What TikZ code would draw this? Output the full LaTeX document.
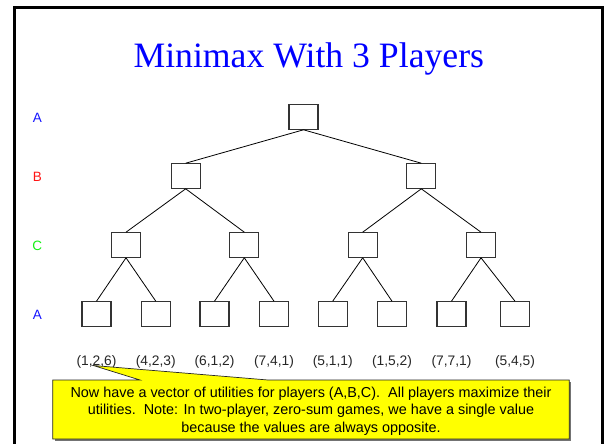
\documentclass[tikz,border=0pt]{standalone}
\usepackage{fontspec}
\setmainfont{Liberation Serif}
\setsansfont{Liberation Sans}
\definecolor{labelblue}{RGB}{20,20,255}
\definecolor{labelred}{RGB}{255,20,20}
\definecolor{labelgreen}{RGB}{20,240,20}
\definecolor{notefill}{RGB}{255,255,0}
\begin{document}
\begin{tikzpicture}[x=1pt,y=-1pt,
  state/.style={draw=black!80,line width=1.1pt,minimum width=29pt,minimum height=24.5pt,inner sep=0pt},
  edge/.style={draw=black,line width=0.8pt},
  player/.style={font=\sffamily\fontsize{13.5}{16}\selectfont,anchor=base},
  tuple/.style={font=\sffamily\fontsize{13.8}{16}\selectfont,anchor=base,text=black!85,inner sep=0pt},
  notetext/.style={font=\sffamily\fontsize{14.4}{17.3}\selectfont,align=center,inner sep=0pt}]
\useasboundingbox (0,0) rectangle (605,444);

% slide frame (bottom edge lies below the page)
\draw[line width=2.6pt] (14.7,460) -- (14.7,7.5) -- (602.5,7.5) -- (602.5,460);

% title
\node[anchor=base,text=blue,font=\fontsize{35.7}{42}\selectfont,inner sep=0pt] (title) at (308.8,67.3) {Minimax With 3 Players};

% player to move at each level
\node[player,text=labelblue]  (pA1) at (37.3,122) {A};
\node[player,text=labelred]   (pB)  at (37.3,181) {B};
\node[player,text=labelgreen] (pC)  at (37.3,250) {C};
\node[player,text=labelblue]  (pA2) at (37.3,319) {A};

% game tree
\node[state] (r)  at (303.5,117) {};
\node[state] (b1) at (185.7,176) {};
\node[state] (b2) at (421.3,176) {};
\node[state] (c1) at (126,245) {};
\node[state] (c2) at (244.3,245) {};
\node[state] (c3) at (362.7,245) {};
\node[state] (c4) at (481,245) {};
\foreach \i/\x in {1/96.5,2/155.8,3/214.5,4/274,5/332.7,6/392,7/451.5,8/515}
  \node[state] (l\i) at (\x,314) {};

\foreach \p/\c in {r/b1,r/b2,b1/c1,b1/c2,b2/c3,b2/c4,c1/l1,c1/l2,c2/l3,c2/l4,c3/l5,c3/l6,c4/l7,c4/l8}
  \draw[edge] (\p.south) -- (\c.north);

% utility vectors at the leaves
\foreach \i/\x/\t in {1/96.5/{(1,2,6)},2/155.8/{(4,2,3)},3/214.5/{(6,1,2)},4/274/{(7,4,1)},5/332.7/{(5,1,1)},6/392/{(1,5,2)},7/451.5/{(7,7,1)},8/515/{(5,4,5)}}
  \node[tuple] (u\i) at (\x,365) {\t};

% callout pointing at the first vector
\coordinate (tip) at (93.3,365.5);
\fill[black!55] (54.7,382) -- (571.3,382) -- (571.3,441.2) -- (54.7,441.2) -- cycle;
\draw[fill=notefill,draw=black!85,line width=0.7pt]
  (52.7,380) -- (140,380) -- (tip) -- (268,380) -- (569.3,380) -- (569.3,439) -- (52.7,439) -- cycle;
\node[notetext] (note) at (311,411.2) {Now have a vector of utilities for players (A,B,C).\ \ All players maximize their\\
utilities.\ \ Note: In two-player, zero-sum games, we have a single value\\
because the values are always opposite.};
\end{tikzpicture}
\end{document}
